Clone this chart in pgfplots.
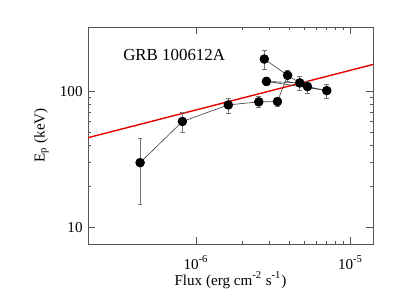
\documentclass[border=0pt]{standalone}
\usepackage{fontspec}
\setmainfont{Liberation Serif}
\usepackage{pgfplots}
\pgfplotsset{compat=1.18}
\definecolor{axgray}{RGB}{85,85,85}
\definecolor{fitred}{RGB}{235,0,0}
\begin{document}
\fontsize{8.6}{10}\selectfont
\begin{tikzpicture}
\path[use as bounding box] (0,0) rectangle (8cm,6cm);
\begin{axis}[
  at={(1.76cm,1.12cm)}, anchor=south west,
  scale only axis, width=5.7cm, height=4.34cm,
  xmode=log, ymode=log,
  xmin=2e-7, xmax=1.4e-5, ymin=7.5, ymax=300,
  xtick={1e-6,1e-5}, xticklabels={10\textsuperscript{-6},10\textsuperscript{-5}},
  ytick={10,100}, yticklabels={10,100},
  tick align=inside, tick pos=both,
  major tick length=0.15cm, minor tick length=0.07cm,
  axis line style={draw=axgray, line width=0.5pt},
  every tick/.style={draw=axgray, line width=0.4pt},
  tick label style={font=\fontsize{8.6}{10}\selectfont},
  xticklabel style={yshift=-3.5pt},
  xlabel={Flux (erg cm\textsuperscript{-2} s\textsuperscript{-1})},
  ylabel={E\textsubscript{p} (keV)},
  label style={font=\fontsize{8.6}{10}\selectfont},
  xlabel style={yshift=4.5pt},
  ylabel style={yshift=0.5pt},
  clip=false,
]
% fit line
\addplot[fitred, line width=0.8pt] coordinates {(2e-7,45.7) (1.4e-5,158.6)};
% connecting lines
\addplot[black!75, line width=0.35pt] coordinates {
  (4.35e-7,29.9) (8.17e-7,60.2) (1.62e-6,79.8) (2.55e-6,84.0) (3.37e-6,84.5) (3.92e-6,132)
};
\addplot[black!75, line width=0.35pt] coordinates {
  (2.77e-6,174) (3.92e-6,132) (4.70e-6,116) (5.27e-6,109) (7.03e-6,101.7) (2.86e-6,119) (4.70e-6,116)
};
% data points with errors
\addplot[only marks, mark=*, mark size=2.5pt, black,
  error bars/.cd, y dir=both, y explicit,
  error bar style={black!55, line width=0.4pt},
  error mark options={rotate=90, mark size=1.3pt, black!55, line width=0.4pt}]
  coordinates {
  (4.35e-7,29.9) += (0,15.5) -= (0,15.1)
  (8.17e-7,60.2) += (0,9.9) -= (0,10.2)
  (1.62e-6,79.8) += (0,10.0) -= (0,10.6)
  (2.55e-6,84.0) += (0,7.8) -= (0,7.7)
  (3.37e-6,84.5) += (0,5.3) -= (0,7.2)
  (2.77e-6,174) += (0,29) -= (0,28)
  (2.86e-6,119) += (0,8) -= (0,8)
  (3.92e-6,132) += (0,12) -= (0,12)
  (4.70e-6,116) += (0,13) -= (0,14)
  (5.27e-6,109) += (0,11) -= (0,12)
  (7.03e-6,101.7) += (0,12) -= (0,13)
};
\node[anchor=west, font=\fontsize{9.6}{11}\selectfont] at (rel axis cs:0.105,0.871) {GRB 100612A};
\end{axis}
\end{tikzpicture}
\end{document}
